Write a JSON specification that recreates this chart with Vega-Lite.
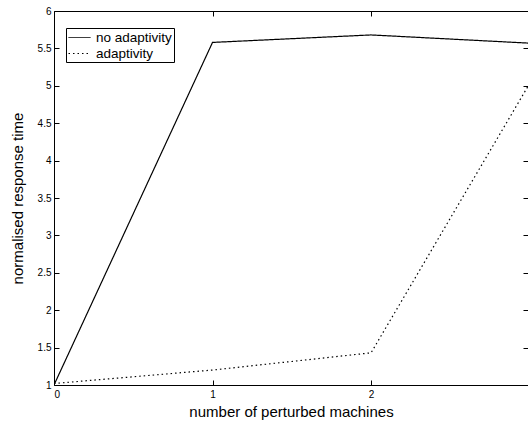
{
  "$schema": "https://vega.github.io/schema/vega-lite/v6.json",
  "autosize": "none",
  "padding": {"left": 54, "top": 11, "right": 0, "bottom": 45},
  "width": 474,
  "height": 374,
  "config": {
    "view": {"stroke": null},
    "font": "Liberation Sans",
    "axis": {
      "domainColor": "black",
      "tickColor": "black",
      "labelColor": "black",
      "titleColor": "black",
      "labelFont": "Liberation Sans",
      "titleFont": "Liberation Sans",
      "titleFontWeight": "normal",
      "labelFontSize": 10,
      "titleFontSize": 15,
      "grid": false,
      "tickSize": -5
    }
  },
  "data": {
    "values": [
      {"series": "no adaptivity", "machines": 0, "time": 1.0},
      {"series": "no adaptivity", "machines": 1, "time": 5.58},
      {"series": "no adaptivity", "machines": 2, "time": 5.68},
      {"series": "no adaptivity", "machines": 3, "time": 5.57},
      {"series": "adaptivity", "machines": 0, "time": 1.02},
      {"series": "adaptivity", "machines": 1, "time": 1.2},
      {"series": "adaptivity", "machines": 2, "time": 1.43},
      {"series": "adaptivity", "machines": 3, "time": 5.03}
    ]
  },
  "layer": [
    {
      "mark": {"type": "line", "color": "black", "strokeWidth": 1.2, "clip": true},
      "encoding": {
        "x": {
          "field": "machines", "type": "quantitative",
          "scale": {"domain": [0, 2.99], "nice": false, "zero": false},
          "axis": {"orient": "bottom", "values": [0, 1, 2, 3], "format": "d", "title": "number of perturbed machines", "labelPadding": 9, "titlePadding": 5}
        },
        "y": {
          "field": "time", "type": "quantitative",
          "scale": {"domain": [1, 6], "nice": false, "zero": false},
          "axis": {"orient": "left", "values": [1, 1.5, 2, 2.5, 3, 3.5, 4, 4.5, 5, 5.5, 6], "format": "~g", "title": "normalised response time", "labelPadding": 8, "titlePadding": 12}
        },
        "strokeDash": {
          "field": "series", "type": "nominal",
          "scale": {"domain": ["no adaptivity", "adaptivity"], "range": [[1, 0], [1.5, 3]]},
          "legend": {
            "title": null,
            "orient": "none",
            "legendX": 12,
            "legendY": 17,
            "strokeColor": "black",
            "fillColor": "white",
            "padding": 2,
            "symbolType": "M-1.57,0H1.57",
            "symbolSize": 196,
            "symbolOffset": 4,
            "symbolStrokeColor": "black",
            "symbolFillColor": "transparent",
            "symbolStrokeWidth": 1,
            "labelFontSize": 13.5,
            "labelFont": "Liberation Sans",
            "labelColor": "black",
            "rowPadding": 2,
            "labelOffset": 9
          }
        }
      }
    },
    {
      "mark": {"type": "point", "opacity": 0, "clip": true},
      "encoding": {
        "x": {
          "field": "machines", "type": "quantitative",
          "axis": {"orient": "top", "values": [0, 1, 2, 3], "labels": false, "title": null}
        },
        "y": {
          "field": "time", "type": "quantitative",
          "axis": {"orient": "right", "values": [1, 1.5, 2, 2.5, 3, 3.5, 4, 4.5, 5, 5.5, 6], "labels": false, "title": null, "domain": false}
        }
      }
    }
  ],
  "resolve": {"axis": {"x": "independent", "y": "independent"}}
}
